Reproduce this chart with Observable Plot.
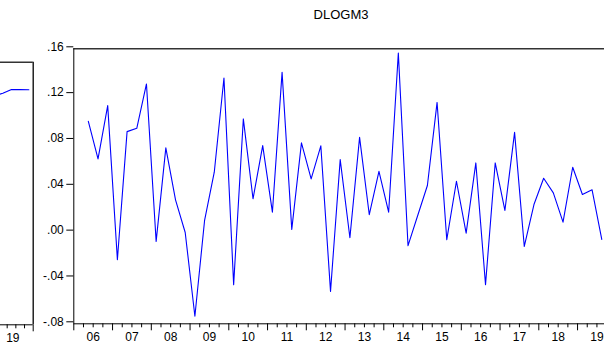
<!DOCTYPE html>
<html><head><meta charset="utf-8">
<script src="https://cdn.jsdelivr.net/npm/d3@7"></script>
<script src="https://cdn.jsdelivr.net/npm/@observablehq/plot@0.6"></script>
<style>
html,body{margin:0;padding:0;background:#fff;overflow:hidden}
#wrap{position:relative;width:604px;height:343px;font-family:"Liberation Sans",Arial,sans-serif}
#wrap svg{position:absolute;left:0;top:0}
#title{position:absolute;top:7px;left:241px;width:200px;text-align:center;font-size:13px;color:#000}
</style>
</head><body>
<div id="wrap"><div id="title">DLOGM3</div></div>
<script>
// ---- data ----
const mainStartYear = 2006, mainStartQuarter = 2;
const dlogm3 = [0.0967,0.0639,0.1104,-0.0240,0.0877,0.0906,0.1293,-0.0081,0.0735,0.0282,
  -0.0003,-0.0734,0.0102,0.0523,0.1345,-0.0458,0.0988,0.0291,0.0755,0.0174,
  0.1394,0.0024,0.0779,0.0465,0.0753,-0.0517,0.0633,-0.0049,0.0827,0.0152,
  0.0531,0.0174,0.1563,-0.0118,0.0145,0.0407,0.1132,-0.0066,0.0444,-0.0009,
  0.0604,-0.0458,0.0604,0.0189,0.0871,-0.0125,0.0241,0.0470,0.0343,0.0087,
  0.0566,0.0328,0.0369,-0.0064];
const leftStartYear = 2018, leftStartQuarter = 4;
const leftSeries = [13.745,13.763,13.792,13.791,13.790];
const yTicks = [-0.08,-0.04,0,0.04,0.08,0.12,0.16];
const yTickLabels = ["-.08","-.04",".00",".04",".08",".12",".16"];
const mainYears = [2006,2007,2008,2009,2010,2011,2012,2013,2014,2015,2016,2017,2018,2019];
const mainYearLabels = ["06","07","08","09","10","11","12","13","14","15","16","17","18","19"];
const leftYears = [2019];
const leftYearLabels = ["19"];

// ---- helpers ----
function toRows(startYear, startQ, values){
  return values.map((v,i)=>{
    const k = (startQ-1)+i;
    const yr = startYear + Math.floor(k/4), q = k%4;
    return {t: yr + q/4 + 0.125, v};
  });
}
const mainRows = toRows(mainStartYear, mainStartQuarter, dlogm3);
const leftRows = toRows(leftStartYear, leftStartQuarter, leftSeries);
const quarterTicks = years => years.flatMap(y=>[y+0.25,y+0.5,y+0.75]);

const W = 604, H = 343;
const font = "'Liberation Sans', Arial, sans-serif";
const mainLeft = 73.3, yearPx = 38.75;

const main = Plot.plot({
  width: W, height: H,
  marginLeft: mainLeft, marginRight: 0, marginTop: 48.3, marginBottom: 19.7,
  x: {domain: [2006, 2006 + (W - mainLeft)/yearPx], axis: null, label: null},
  y: {domain: [-0.08, 0.16], axis: null, label: null},
  style: {fontFamily: font, fontSize: "12px", color: "#000", background: "transparent", overflow: "hidden"},
  marks: [
    Plot.ruleY([0.16], {stroke: "#333", strokeWidth: 1.6}),
    Plot.ruleY([-0.08], {stroke: "#000", strokeWidth: 1}),
    Plot.ruleX([2006], {stroke: "#000", strokeWidth: 1}),
    Plot.axisY({ticks: yTicks, tickSize: 7, tickPadding: 3, stroke: "#000", label: null,
      tickFormat: d => yTickLabels[yTicks.findIndex(t => Math.abs(t-d) < 1e-9)], dy: -2}),
    Plot.axisX({ticks: mainYears, tickSize: 7, tickFormat: () => "", stroke: "#000", label: null}),
    Plot.axisX({ticks: quarterTicks(mainYears).filter(t => t < 2019.7), tickSize: 4, tickFormat: () => "", stroke: "#000", label: null}),
    Plot.axisX({ticks: mainYears.map(y => y + 0.5), tickSize: 0, tickPadding: 9, label: null,
      tickFormat: d => mainYearLabels[mainYears.indexOf(Math.round(d - 0.5))]}),
    Plot.line(mainRows, {x: "t", y: "v", stroke: "#0000ff", strokeWidth: 1.1, clip: true})
  ]
});

const leftW = 40, leftRight = 32.7, leftYearPx = 34.7;
const left = Plot.plot({
  width: leftW, height: H,
  marginLeft: 0, marginRight: leftW - leftRight, marginTop: 61.7, marginBottom: 18.7,
  x: {domain: [2020 - leftRight/leftYearPx, 2020], axis: null, label: null},
  y: {domain: [12, 14], axis: null, label: null},
  style: {fontFamily: font, fontSize: "12px", color: "#000", background: "transparent", overflow: "visible"},
  marks: [
    Plot.ruleY([14], {stroke: "#333", strokeWidth: 1.6}),
    Plot.ruleY([12], {stroke: "#000"}),
    Plot.ruleX([2020], {stroke: "#000", strokeWidth: 1.3}),
    Plot.axisX({ticks: [2020], tickSize: 7, tickFormat: () => "", stroke: "#000", label: null}),
    Plot.axisX({ticks: quarterTicks(leftYears), tickSize: 4, tickFormat: () => "", stroke: "#000", label: null}),
    Plot.axisX({ticks: leftYears.map(y => y + 0.5), tickSize: 0, tickPadding: 9, label: null, dx: -3,
      tickFormat: d => leftYearLabels[leftYears.indexOf(Math.round(d - 0.5))]}),
    Plot.line(leftRows, {x: "t", y: "v", stroke: "#0000ff", strokeWidth: 1.1, clip: true})
  ]
});

const wrap = document.getElementById("wrap");
wrap.appendChild(main);
wrap.appendChild(left);
</script>
</body></html>
